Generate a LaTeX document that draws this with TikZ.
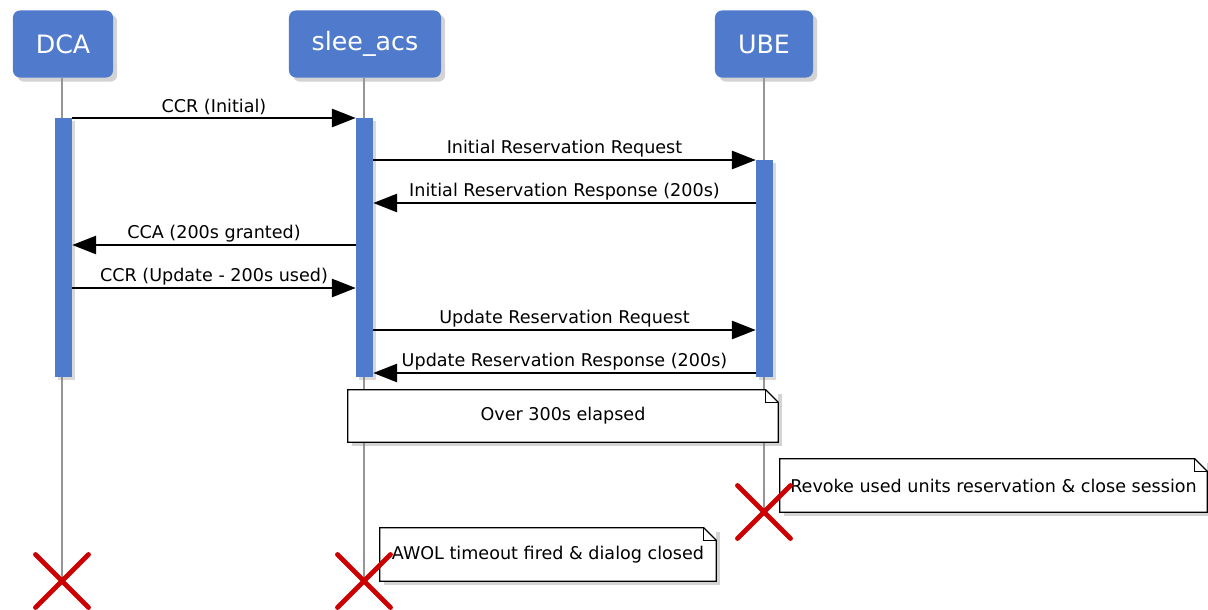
\documentclass[tikz,border=0pt]{standalone}
\usepackage{fontspec}
\setmainfont{DejaVu Sans}
\usetikzlibrary{arrows.meta,shadows,shapes.misc}
\definecolor{azulcaja}{RGB}{80,122,204}
\definecolor{rojocruz}{RGB}{204,0,0}
\definecolor{grisvida}{RGB}{150,150,150}

% Nota con esquina doblada
\newcommand\doblez[1]{%
  \draw[borde] (#1.south west) -- (#1.north west) -- ([xshift=-9pt]#1.north east)
    -- ([yshift=-9pt]#1.north east) -- (#1.south east) -- cycle;
  \draw[borde] ([xshift=-9pt]#1.north east) |- ([yshift=-9pt]#1.north east);
}

\begin{document}
\begin{tikzpicture}[x=0.025cm,y=-0.025cm,
    actor/.style={fill=azulcaja, rounded corners=5pt, text=white, inner sep=0pt,
      minimum height=1.675cm, font=\fontsize{18}{21}\selectfont,
      drop shadow={shadow xshift=3pt, shadow yshift=-3pt, opacity=0.35}},
    barra/.style={fill=azulcaja, inner sep=0pt, minimum width=0.425cm, anchor=north,
      drop shadow={shadow xshift=2pt, shadow yshift=-2pt, opacity=0.3}},
    vida/.style={grisvida, line width=1.1pt},
    msg/.style={-{Triangle[length=17pt,width=13pt]}, line width=1.4pt},
    etiq/.style={above, inner sep=1.5pt, font=\fontsize{12.5}{14}\selectfont},
    nota/.style={fill=white, inner sep=0pt, minimum height=1.3cm,
      font=\fontsize{12.5}{14}\selectfont,
      drop shadow={shadow xshift=3pt, shadow yshift=-3pt, opacity=0.35}},
    borde/.style={line width=0.9pt},
    cruz/.style={cross out, draw=rojocruz, line width=3.5pt, line cap=round,
      minimum size=1.2cm, inner sep=0pt}]
    \useasboundingbox (0,0) rectangle (1208,610);

    % Filas de los mensajes
    \coordinate (r1) at (0,118);
    \coordinate (r2) at (0,160);
    \coordinate (r3) at (0,203);
    \coordinate (r4) at (0,245);
    \coordinate (r5) at (0,288);
    \coordinate (r6) at (0,330);
    \coordinate (r7) at (0,373);

    % Participantes
    \node[actor, minimum width=2.5cm] (dca) at (63,44) {DCA};
    \node[actor, minimum width=3.8cm] (slee) at (365,44) {slee\_acs};
    \node[actor, minimum width=2.45cm] (ube) at (764,44) {UBE};

    % Fin de cada participante
    \path (62,581) coordinate (fdca)
          (364,581) coordinate (fslee)
          (764,512) coordinate (fube);

    % Lineas de vida
    \draw[vida] (dca.south -| fdca) -- (fdca);
    \draw[vida] (slee.south -| fslee) -- (fslee);
    \draw[vida] (ube.south -| fube) -- (fube);

    % Activaciones
    \node[barra, minimum height=6.475cm] (bdca) at (63.5,118) {};
    \node[barra, minimum height=6.475cm] (bslee) at (364.5,118) {};
    \node[barra, minimum height=5.425cm] (bube) at (764.5,160) {};

    % Mensajes
    \draw[msg] (bdca.east |- r1) -- (bslee.west |- r1) node[etiq, midway] {CCR (Initial)};
    \draw[msg] (bslee.east |- r2) -- (bube.west |- r2) node[etiq, midway] {Initial Reservation Request};
    \draw[msg] (bube.west |- r3) -- (bslee.east |- r3) node[etiq, midway] {Initial Reservation Response (200s)};
    \draw[msg] (bslee.west |- r4) -- (bdca.east |- r4) node[etiq, midway] {CCA (200s granted)};
    \draw[msg] (bdca.east |- r5) -- (bslee.west |- r5) node[etiq, midway] {CCR (Update - 200s used)};
    \draw[msg] (bslee.east |- r6) -- (bube.west |- r6) node[etiq, midway] {Update Reservation Request};
    \draw[msg] (bube.west |- r7) -- (bslee.east |- r7) node[etiq, midway] {Update Reservation Response (200s)};

    % Notas
    \node[nota, minimum width=10.75cm] (n300) at (563,416) {Over 300s elapsed};
    \doblez{n300}
    \node[nota, minimum width=10.675cm, minimum height=1.325cm] (nube) at (993.5,485.5)
      {Revoke used units reservation \& close session};
    \doblez{nube}
    \node[nota, minimum width=8.4cm, minimum height=1.325cm] (nslee) at (548,554.5)
      {AWOL timeout fired \& dialog closed};
    \doblez{nslee}

    % Destruccion
    \node[cruz] (xdca) at (fdca) {};
    \node[cruz] (xslee) at (fslee) {};
    \node[cruz] (xube) at (fube) {};
\end{tikzpicture}
\end{document}
